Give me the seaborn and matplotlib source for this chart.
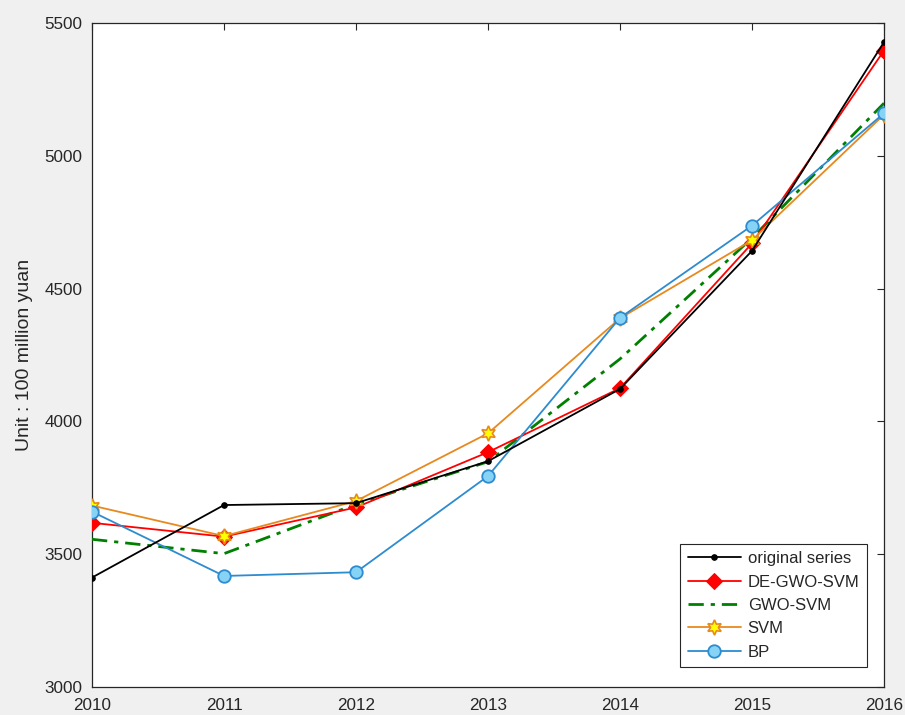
import matplotlib
matplotlib.use("Agg")
import matplotlib.pyplot as plt
import seaborn as sns
import pandas as pd

years = [2010, 2011, 2012, 2013, 2014, 2015, 2016]
original_series = [3412, 3685, 3692, 3850, 4122, 4642, 5428]
de_gwo_svm = [3618, 3566, 3676, 3884, 4125, 4670, 5396]
gwo_svm = [3556, 3502, 3688, 3848, 4235, 4690, 5198]
svm = [3683, 3568, 3700, 3955, 4388, 4682, 5155]
bp = [3660, 3418, 3432, 3794, 4390, 4737, 5160]

y_ticks = [3000, 3500, 4000, 4500, 5000, 5500]

sns.set_theme(style="white")
plt.rcParams["font.family"] = ["Liberation Sans", "DejaVu Sans"]

fig = plt.figure(figsize=(9.05, 7.15), dpi=100, facecolor="#f0f0f0")
ax = fig.add_axes([0.1017, 0.0392, 0.8751, 0.9287])
ax.set_facecolor("white")

df = pd.DataFrame({"year": years, "original series": original_series,
                   "DE-GWO-SVM": de_gwo_svm, "GWO-SVM": gwo_svm,
                   "SVM": svm, "BP": bp})

sns.lineplot(data=df, x="year", y="original series", ax=ax, color="black",
             lw=1.3, marker="o", markersize=4, markeredgecolor="black",
             label="original series", zorder=5)
sns.lineplot(data=df, x="year", y="DE-GWO-SVM", ax=ax, color="#ff0000",
             lw=1.3, marker="D", markersize=8, markeredgecolor="#ff0000",
             markerfacecolor="#ff0000", label="DE-GWO-SVM", zorder=4)
sns.lineplot(data=df, x="year", y="GWO-SVM", ax=ax, color="#008000",
             lw=2.0, linestyle=(0, (5.5, 2.5, 1.5, 2.5)), label="GWO-SVM",
             zorder=3)
sns.lineplot(data=df, x="year", y="SVM", ax=ax, color="#e8891e",
             lw=1.3, marker=(6, 1, 0), markersize=11, markeredgecolor="#e8891e",
             markerfacecolor="#ffff00", markeredgewidth=1.2, label="SVM",
             zorder=4)
sns.lineplot(data=df, x="year", y="BP", ax=ax, color="#2d8bd0",
             lw=1.3, marker="o", markersize=9, markeredgecolor="#2d8bd0",
             markerfacecolor="#87d3f5", markeredgewidth=1.3, label="BP",
             zorder=4)

ax.set_xlim(2010, 2016)
ax.set_ylim(3000, 5500)
ax.set_xticks(years)
ax.set_xticklabels([str(y) for y in years])
ax.set_yticks(y_ticks)
ax.set_xlabel("")
ax.set_ylabel("Unit : 100 million yuan", fontsize=14, color="#262626", labelpad=8)

ax.tick_params(axis="both", which="major", direction="in", length=5, width=0.8,
               labelsize=12.3, labelcolor="#262626", color="#262626",
               top=True, right=True, pad=7)
ax.tick_params(axis="x", pad=8)
for s in ax.spines.values():
    s.set_visible(True)
    s.set_color("#262626")
    s.set_linewidth(0.9)

leg = ax.legend(loc="lower right", bbox_to_anchor=(0.9785, 0.03), fontsize=12,
                frameon=True, fancybox=False, handlelength=3.2,
                borderpad=0.45, labelspacing=0.5, handletextpad=0.4,
                borderaxespad=0)
leg.get_frame().set_edgecolor("#262626")
leg.get_frame().set_linewidth(0.8)
leg.get_frame().set_alpha(1.0)

fig.savefig("out.png", dpi=100, facecolor=fig.get_facecolor())
